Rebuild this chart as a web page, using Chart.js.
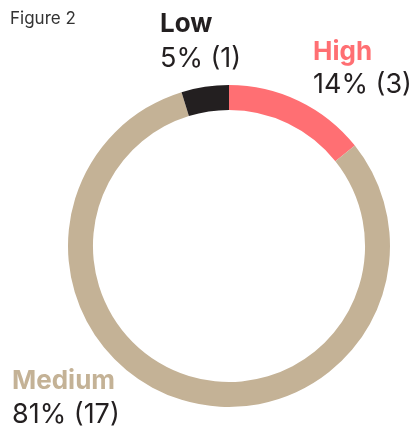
<!DOCTYPE html>
<html>
<head>
<meta charset="utf-8">
<script src="https://cdn.jsdelivr.net/npm/chart.js@4/dist/chart.umd.min.js"></script>
<style>
html,body{margin:0;padding:0;background:#fff;}
#wrap{position:relative;width:412px;height:428px;}
</style>
</head>
<body>
<div id="wrap"><canvas id="c" width="412" height="428"></canvas></div>
<script>
const categories = ["High", "Medium", "Low"];
const counts = [3, 17, 1];
const percentLabels = ["14% (3)", "81% (17)", "5% (1)"];
const colors = ["#FF6F73", "#C4B296", "#231F20"];
const title = "Figure 2";

const labelPlugin = {
  id: "labelPlugin",
  afterDraw(chart) {
    const ctx = chart.ctx;
    ctx.save();
    ctx.textBaseline = "alphabetic";
    ctx.textAlign = "left";
    ctx.fillStyle = "#333333";
    ctx.font = "400 17px Inter";
    ctx.fillText(title, 10, 24);
    const pos = {
      "High": [313, 60, 93],
      "Medium": [12, 389, 423],
      "Low": [160, 32, 67]
    };
    categories.forEach((c, i) => {
      const p = pos[c];
      ctx.fillStyle = colors[i];
      ctx.font = "700 26px Inter";
      ctx.fillText(c, p[0], p[1]);
      ctx.fillStyle = "#231F20";
      ctx.font = "400 27px Inter";
      ctx.fillText(percentLabels[i], p[0], p[2]);
    });
    ctx.restore();
  }
};

new Chart(document.getElementById("c"), {
  type: "doughnut",
  data: {
    labels: categories,
    datasets: [{
      data: counts,
      backgroundColor: colors,
      borderWidth: 0
    }]
  },
  options: {
    responsive: false,
    animation: false,
    cutout: "84.5%",
    layout: { padding: { left: 68, right: 22, top: 85, bottom: 21 } },
    plugins: { legend: { display: false }, tooltip: { enabled: false } }
  },
  plugins: [labelPlugin]
});
</script>
</body>
</html>
